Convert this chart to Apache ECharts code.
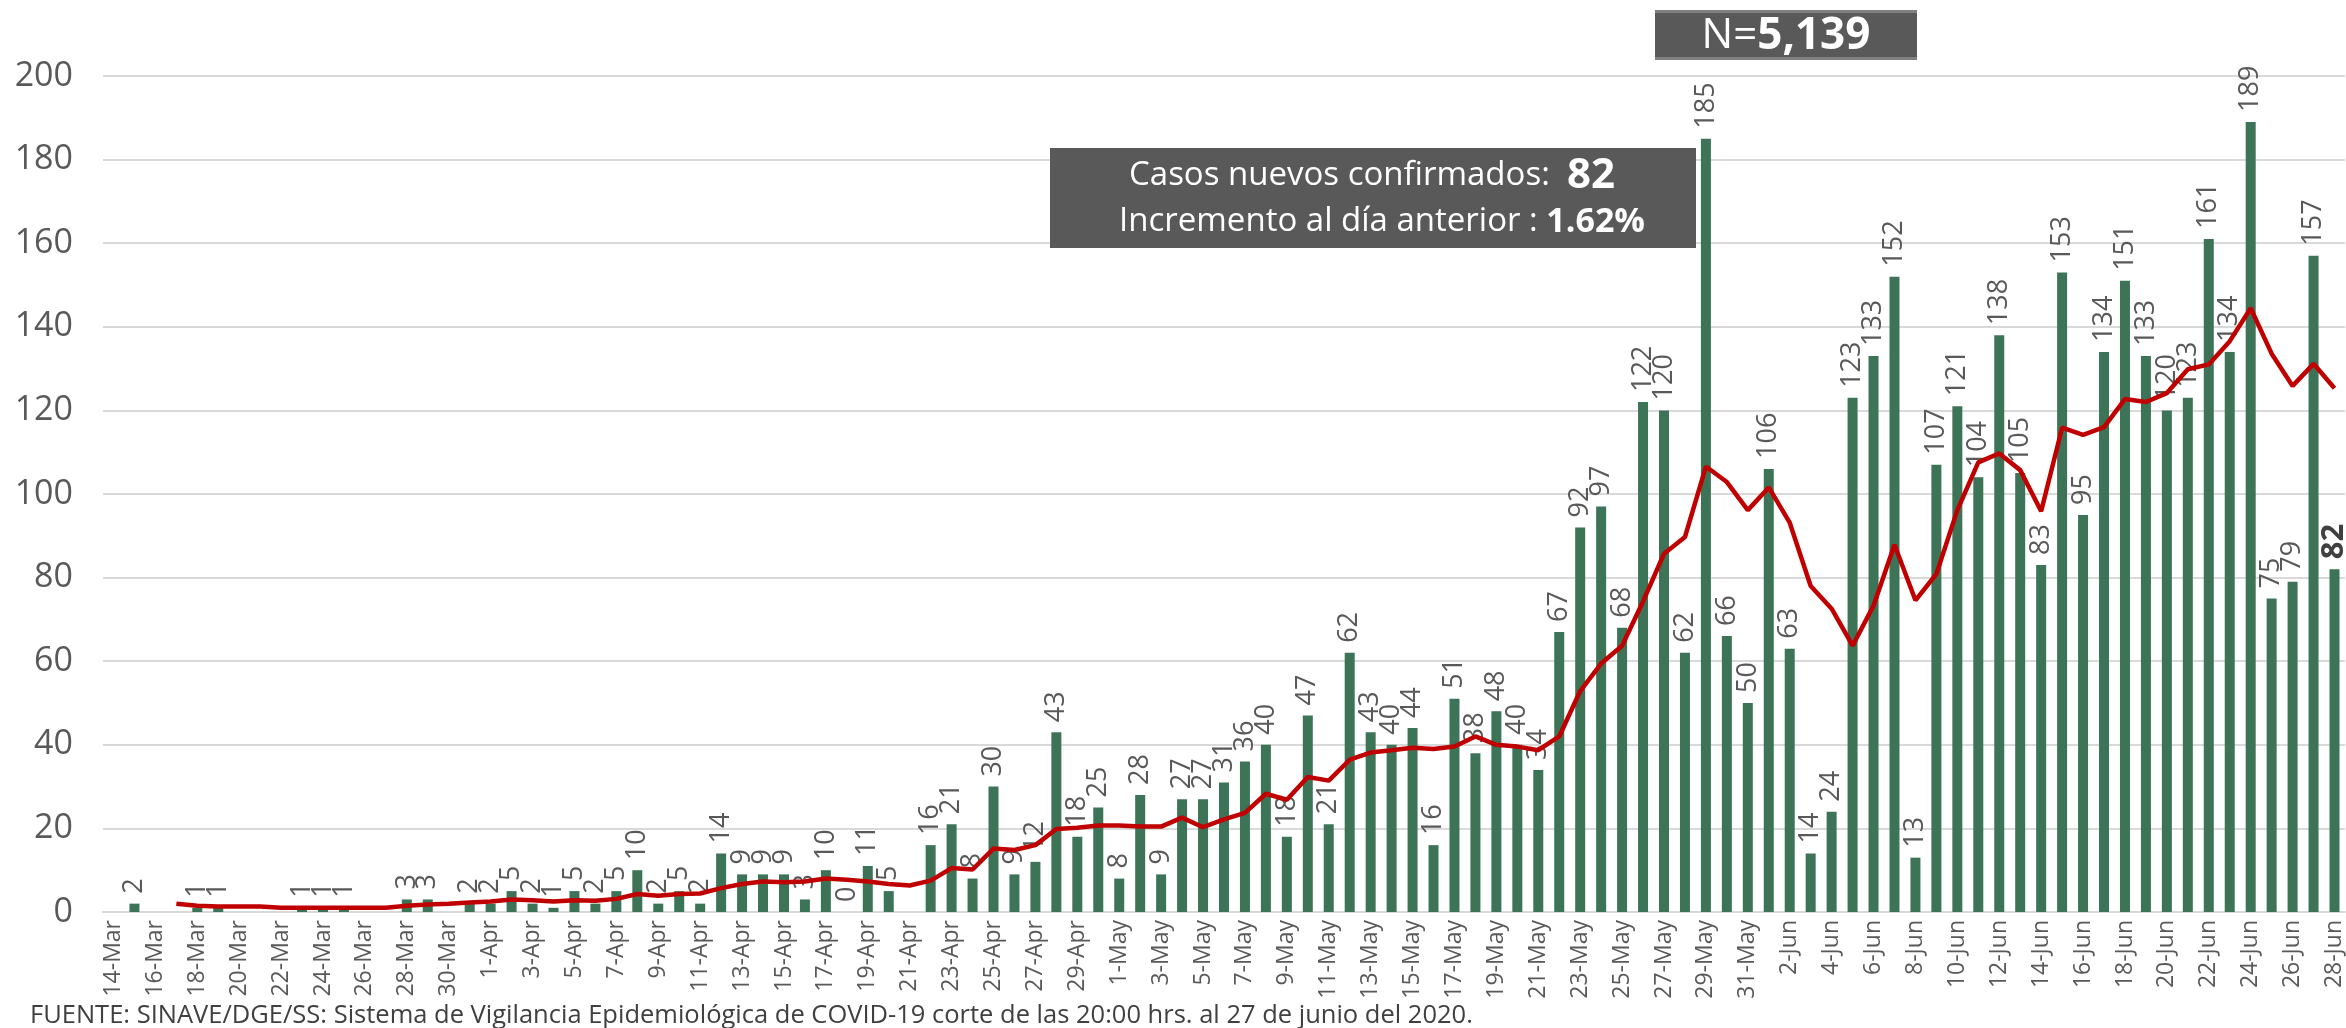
<!DOCTYPE html>
<html>
<head>
<meta charset="utf-8">
<script src="https://cdn.jsdelivr.net/npm/echarts@6/dist/echarts.min.js"></script>
<style>
  html, body { margin: 0; padding: 0; background: #fff; }
  #main { width: 2346px; height: 1028px; }
</style>
</head>
<body>
<div id="main"></div>
<script>
// fechas 14-Mar .. 28-Jun
var dates = [
  '14-Mar','15-Mar','16-Mar','17-Mar','18-Mar','19-Mar','20-Mar','21-Mar','22-Mar','23-Mar',
  '24-Mar','25-Mar','26-Mar','27-Mar','28-Mar','29-Mar','30-Mar','31-Mar',
  '1-Apr','2-Apr','3-Apr','4-Apr','5-Apr','6-Apr','7-Apr','8-Apr','9-Apr','10-Apr',
  '11-Apr','12-Apr','13-Apr','14-Apr','15-Apr','16-Apr','17-Apr','18-Apr','19-Apr','20-Apr',
  '21-Apr','22-Apr','23-Apr','24-Apr','25-Apr','26-Apr','27-Apr','28-Apr','29-Apr','30-Apr',
  '1-May','2-May','3-May','4-May','5-May','6-May','7-May','8-May','9-May','10-May',
  '11-May','12-May','13-May','14-May','15-May','16-May','17-May','18-May','19-May','20-May',
  '21-May','22-May','23-May','24-May','25-May','26-May','27-May','28-May','29-May','30-May','31-May',
  '1-Jun','2-Jun','3-Jun','4-Jun','5-Jun','6-Jun','7-Jun','8-Jun','9-Jun','10-Jun',
  '11-Jun','12-Jun','13-Jun','14-Jun','15-Jun','16-Jun','17-Jun','18-Jun','19-Jun','20-Jun',
  '21-Jun','22-Jun','23-Jun','24-Jun','25-Jun','26-Jun','27-Jun','28-Jun'
];

// casos nuevos por dia
var casosMar = [null,2,null,null,1,1,null,null,null,1,1,1,null,null,3,3,null,2];
var casosAbr = [2,5,2,1,5,2,5,10,2,5, 2,14,9,9,9,3,10,0,11,5, null,16,21,8,30,9,12,43,18,25];
var casosMay = [8,28,9,27,27,31,36,40,18,47, 21,62,43,40,44,16,51,38,48,40, 34,67,92,97,68,122,120,62,185,66,50];
var casosJun = [106,63,14,24,123,133,152,13,107,121, 104,138,105,83,153,95,134,151,133,120, 123,161,134,189,75,79,157,82];

// promedio movil (linea roja)
var promMar = [null,null,null,2.0,1.5,1.33,1.33,1.33,1.0,1.0,1.0,1.0,1.0,1.0,1.5,1.8,2.0,2.25];
var promAbr = [2.5,3.0,2.83,2.5,2.83,2.71,3.14,4.29,3.86,4.29, 4.43,5.71,6.71,7.29,7.14,7.29,8.0,7.71,7.29,6.71,
               6.33,7.5,10.5,10.17,15.17,14.83,16.0,19.86,20.14,20.71];
var promMay = [20.71,20.43,20.43,22.57,20.29,22.14,23.71,28.29,26.86,32.29, 31.43,36.43,38.14,38.71,39.29,39.0,39.57,42.0,40.0,39.57,
               38.71,42.0,52.86,59.43,63.71,74.29,85.71,89.71,106.57,102.86,96.14];
var promJun = [101.57,93.14,78.0,72.57,63.71,73.29,87.86,74.57,80.86,96.14, 107.57,109.71,105.71,95.86,115.86,114.14,116.0,122.71,122.0,124.14,
               129.86,131.0,136.57,144.43,133.57,125.86,131.14,125.29];

var casos = casosMar.concat(casosAbr, casosMay, casosJun);
var promedio = promMar.concat(promAbr, promMay, promJun);

var FONT = 'Open Sans';
var GRIS = '#595959';

var barData = casos.map(function (v, i) {
  if (i === casos.length - 1) {
    return { value: v, label: { fontWeight: 'bold', color: '#404040', fontSize: 31 } };
  }
  return v;
});

var myChart = echarts.init(document.getElementById('main'));
var option = {
  animation: false,
  textStyle: { fontFamily: FONT },
  grid: { left: 103, right: 1, top: 76, bottom: 116 },
  xAxis: {
    type: 'category',
    data: dates,
    axisLine: { lineStyle: { color: '#d9d9d9', width: 2 } },
    axisTick: { interval: 1, length: 8, lineStyle: { color: '#d9d9d9', width: 2 } },
    axisLabel: { interval: 1, rotate: 90, fontSize: 23, color: GRIS, margin: 8, fontFamily: FONT }
  },
  yAxis: {
    type: 'value',
    min: 0,
    max: 200,
    interval: 20,
    axisLine: { show: false },
    axisTick: { show: false },
    axisLabel: { fontSize: 34, color: GRIS, margin: 30, fontFamily: FONT },
    splitLine: { lineStyle: { color: '#d9d9d9', width: 2 } }
  },
  series: [
    {
      type: 'bar',
      data: barData,
      barWidth: 10,
      itemStyle: { color: '#3d7457' },
      label: {
        show: true,
        position: 'top',
        rotate: 90,
        align: 'left',
        verticalAlign: 'middle',
        distance: 10,
        fontSize: 27,
        color: GRIS,
        fontFamily: FONT
      },
      z: 2
    },
    {
      type: 'line',
      data: promedio,
      symbol: 'none',
      lineStyle: { color: '#c00000', width: 4.5 },
      itemStyle: { color: '#c00000' },
      z: 3
    }
  ],
  graphic: [
    { type: 'rect', z: 10, shape: { x: 1655, y: 10, width: 262, height: 50 }, style: { fill: '#595959', stroke: null, lineWidth: 0 } },
    { type: 'rect', z: 10, shape: { x: 1655, y: 10, width: 262, height: 3 }, style: { fill: '#808080', stroke: null, lineWidth: 0 } },
    { type: 'rect', z: 10, shape: { x: 1655, y: 57, width: 262, height: 3 }, style: { fill: '#808080', stroke: null, lineWidth: 0 } },
    {
      type: 'text', z: 11, x: 1786, y: 36,
      style: {
        text: '{a|N=}{b|5,139}',
        align: 'center', verticalAlign: 'middle',
        rich: {
          a: { fontSize: 42, fill: '#fff', fontFamily: FONT },
          b: { fontSize: 44, fill: '#fff', fontWeight: 'bold', fontFamily: FONT }
        }
      }
    },
    { type: 'rect', z: 10, shape: { x: 1050, y: 148, width: 646, height: 100 }, style: { fill: '#595959', stroke: null, lineWidth: 0 } },
    {
      type: 'text', z: 11, x: 1372, y: 176,
      style: {
        text: '{a|Casos nuevos confirmados:  }{b|82}',
        align: 'center', verticalAlign: 'middle',
        rich: {
          a: { fontSize: 33, fill: '#fff', fontFamily: FONT },
          b: { fontSize: 42, fill: '#fff', fontWeight: 'bold', fontFamily: FONT }
        }
      }
    },
    {
      type: 'text', z: 11, x: 1382, y: 222,
      style: {
        text: '{a|Incremento al día anterior : }{b|1.62%}',
        align: 'center', verticalAlign: 'middle',
        rich: {
          a: { fontSize: 33, fill: '#fff', fontFamily: FONT },
          b: { fontSize: 34, fill: '#fff', fontWeight: 'bold', fontFamily: FONT }
        }
      }
    },
    {
      type: 'text', x: 30, y: 1016,
      style: {
        text: 'FUENTE: SINAVE/DGE/SS: Sistema de Vigilancia Epidemiológica de COVID-19 corte de las 20:00 hrs. al 27 de junio del 2020.',
        fontSize: 25.5, fill: '#404040', fontFamily: FONT,
        verticalAlign: 'middle'
      }
    }
  ]
};
myChart.setOption(option);
</script>
</body>
</html>
